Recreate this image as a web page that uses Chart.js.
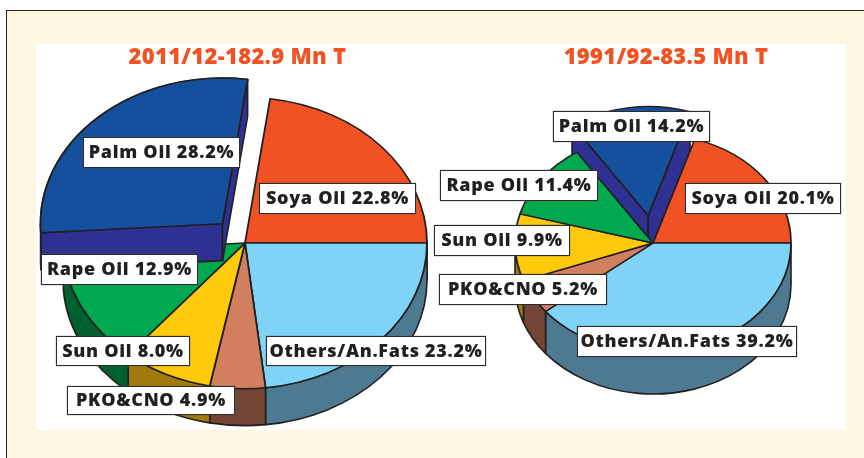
<!DOCTYPE html>
<html>
<head>
<meta charset="utf-8">
<script src="https://cdn.jsdelivr.net/npm/chart.js@4"></script>
<style>
  html, body { margin: 0; padding: 0; background: #fff; overflow: hidden; }
  #page { position: relative; width: 864px; height: 458px; overflow: hidden; }
  #frame { position: absolute; left: 6px; top: 10px; width: 870px; height: 470px; box-sizing: border-box;
           background: #fdf6e0; border: 1px solid #2a2627; }
  #panel { position: absolute; left: 36px; top: 44px; width: 810px; height: 386px; background: #fff; }
  canvas { position: absolute; top: 0; }
  #pieLeft { left: 0; }
  #pieRight { left: 432px; }
  .title { position: absolute; top: 41px; height: 28px; white-space: nowrap; transform: translateX(-50%);
           font: 800 22px/28px "Open Sans", sans-serif; letter-spacing: 0.3px; color: #f15223; }
  .label { position: absolute; box-sizing: border-box; background: #fff; border: 1px solid #2f2b2c; padding-bottom: 3px;
           box-shadow: 0 0 1px #555; display: flex; align-items: center; justify-content: center; white-space: nowrap;
           font: 800 18px "Open Sans", sans-serif; letter-spacing: 0.7px; color: #231f20; }
</style>
</head>
<body>
<div id="page">
  <div id="frame"></div>
  <div id="panel"></div>
  <canvas id="pieLeft" width="490" height="458"></canvas>
  <canvas id="pieRight" width="432" height="458"></canvas>
</div>
<script>
// 2011/12, starts at Soya so that Palm is painted last
const titleLeft = '2011/12-182.9 Mn T';
const categoriesLeft = ['Soya Oil', 'Others/An.Fats', 'PKO&CNO', 'Sun Oil', 'Rape Oil', 'Palm Oil'];
const valuesLeft = [22.8, 23.2, 4.9, 8.0, 12.9, 28.2];

// 1991/92, starts at Palm so that Palm is painted first
const titleRight = '1991/92-83.5 Mn T';
const categoriesRight = ['Palm Oil', 'Soya Oil', 'Others/An.Fats', 'PKO&CNO', 'Sun Oil', 'Rape Oil'];
const valuesRight = [14.2, 20.1, 39.2, 5.2, 9.9, 11.4];

const faceColors = {
  'Palm Oil': '#15509f', 'Soya Oil': '#f15223', 'Others/An.Fats': '#7fd3f7',
  'PKO&CNO': '#d27f60', 'Sun Oil': '#ffc90c', 'Rape Oil': '#00a94f'
};
const wallColors = {
  'Palm Oil': '#2e3192', 'Soya Oil': '#a5381a', 'Others/An.Fats': '#4d7a91',
  'PKO&CNO': '#724535', 'Sun Oil': '#a17a0c', 'Rape Oil': '#006030'
};

// label boxes: left, top, width, height, same order as the categories
const boxesLeft = [[259, 183, 157, 31], [266, 336, 220, 30], [67, 386, 168, 29], [56, 336, 134, 30], [41, 254, 157, 31], [83, 137, 157, 31]];
const boxesRight = [[553, 111, 157, 31], [685, 183, 156, 31], [577, 326, 220, 31], [439, 274, 168, 31], [434, 225, 136, 31], [440, 170, 158, 31]];

const INK = '#231f20';

// Chart.js has no 3D pie: squash the arcs into ellipses and paint the walls under them
const pie3d = {
  id: 'pie3d',
  afterDatasetsUpdate(chart, args, opts) {
    chart.getDatasetMeta(0).data.forEach((arc, i) => {
      const mid = (arc.startAngle + arc.endAngle) / 2;
      arc.x += Math.cos(mid) * (opts.explode[i] || 0);
      arc.y += Math.sin(mid) * (opts.explode[i] || 0);
    });
  },
  beforeDatasetsDraw(chart, args, opts) {
    const ctx = chart.ctx;
    chart.getDatasetMeta(0).data.forEach((arc, i) => {
      if (opts.wallOnTop && opts.explode[i]) return;
      drawWall(chart, arc, i, opts);
    });
    ctx.save();
    squash(chart, opts);
  },
  afterDatasetsDraw(chart, args, opts) {
    const ctx = chart.ctx;
    ctx.restore();
    if (!opts.wallOnTop) return;
    chart.getDatasetMeta(0).data.forEach((arc, i) => {
      if (!opts.explode[i]) return;
      drawWall(chart, arc, i, opts);
      ctx.save();
      squash(chart, opts);
      arc.draw(ctx);
      ctx.restore();
    });
  }
};

function centerY(chart) {
  return (chart.chartArea.top + chart.chartArea.bottom) / 2;
}

function squash(chart, opts) {
  const cy = centerY(chart);
  chart.ctx.translate(0, cy);
  chart.ctx.scale(1, opts.squash);
  chart.ctx.translate(0, -cy);
}

function drawWall(chart, arc, i, opts) {
  const ctx = chart.ctx;
  const d = opts.depth;
  const rx = arc.outerRadius;
  const ry = rx * opts.squash;
  const cy = centerY(chart);
  const ex = arc.x;
  const ey = cy + (arc.y - cy) * opts.squash;

  ctx.save();
  ctx.fillStyle = opts.walls[i];
  ctx.strokeStyle = INK;
  ctx.lineWidth = 1.6;
  ctx.lineJoin = 'round';

  // straight sides only show on a slice pulled out of the pie
  if (opts.explode[i]) {
    [arc.startAngle, arc.endAngle].forEach(a => {
      const px = ex + rx * Math.cos(a);
      const py = ey + ry * Math.sin(a);
      ctx.beginPath();
      ctx.moveTo(ex, ey);
      ctx.lineTo(px, py);
      ctx.lineTo(px, py + d);
      ctx.lineTo(ex, ey + d);
      ctx.closePath();
      ctx.fill();
      ctx.stroke();
    });
  }

  // outer curved side, only the front half of the pie shows it
  const a0 = Math.max(arc.startAngle, 0);
  const a1 = Math.min(arc.endAngle, Math.PI);
  if (a1 > a0) {
    ctx.beginPath();
    ctx.ellipse(ex, ey, rx, ry, 0, a0, a1);
    ctx.ellipse(ex, ey + d, rx, ry, 0, a1, a0, true);
    ctx.closePath();
    ctx.fill();
    ctx.stroke();
  }
  ctx.restore();
}

function makePie(id, categories, values, rotation, pad, radius, settings) {
  return new Chart(document.getElementById(id), {
    type: 'pie',
    plugins: [pie3d],
    data: {
      labels: categories,
      datasets: [{
        data: values,
        backgroundColor: categories.map(c => faceColors[c]),
        borderColor: INK,
        borderWidth: 1.8,
        borderJoinStyle: 'round',
        radius: radius,
        clip: false
      }]
    },
    options: {
      responsive: false,
      animation: false,
      events: [],
      rotation: rotation,
      layout: { padding: pad },
      plugins: {
        legend: { display: false },
        tooltip: { enabled: false },
        pie3d: Object.assign({ walls: categories.map(c => wallColors[c]) }, settings)
      }
    }
  });
}

makePie('pieLeft', categoriesLeft, valuesLeft, 90 - valuesLeft[0] * 3.6, { top: 28 }, 182,
  { depth: 37, squash: 0.8, explode: [0, 0, 0, 0, 0, 33], wallOnTop: true });

makePie('pieRight', categoriesRight, valuesRight, 90 - (valuesRight[0] + valuesRight[1]) * 3.6, { top: 28, left: 10 }, 138,
  { depth: 42, squash: 0.79, explode: [35, 0, 0, 0, 0, 0], wallOnTop: false });

// text on top of the charts
const page = document.getElementById('page');

function addTitle(text, centerX) {
  const el = document.createElement('div');
  el.className = 'title';
  el.style.left = centerX + 'px';
  el.textContent = text;
  page.appendChild(el);
}

function addLabels(categories, values, boxes) {
  categories.forEach((c, i) => {
    const el = document.createElement('div');
    const [x, y, w, h] = boxes[i];
    el.className = 'label';
    el.style.cssText = `left:${x}px;top:${y}px;width:${w}px;height:${h}px`;
    el.textContent = `${c} ${values[i].toFixed(1)}%`;
    page.appendChild(el);
  });
}

addTitle(titleLeft, 237.5);
addTitle(titleRight, 666);
addLabels(categoriesLeft, valuesLeft, boxesLeft);
addLabels(categoriesRight, valuesRight, boxesRight);
</script>
</body>
</html>
